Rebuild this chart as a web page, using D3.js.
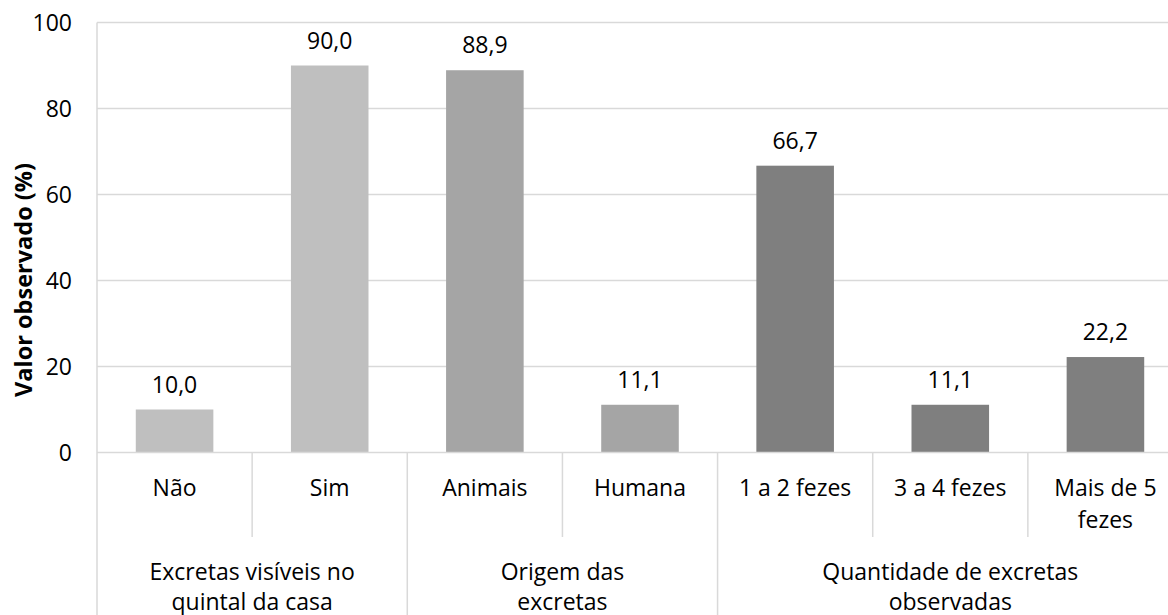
<!DOCTYPE html>
<html><head><meta charset="utf-8">
<script src="https://cdn.jsdelivr.net/npm/d3@7"></script>
<style>
html,body{margin:0;padding:0;background:#fff;overflow:hidden}
text{font-family:"Open Sans",sans-serif;fill:#000}
</style></head>
<body><svg id="c" width="1168" height="615"></svg>
<script>
const categories = ["Não","Sim","Animais","Humana","1 a 2 fezes","3 a 4 fezes","Mais de 5\nfezes"];
const values = [10.0, 90.0, 88.9, 11.1, 66.7, 11.1, 22.2];
const groupOfCategory = [0, 0, 1, 1, 2, 2, 2];
const groups = ["Excretas visíveis no\nquintal da casa","Origem das\nexcretas","Quantidade de excretas\nobservadas"];
const groupColors = ["#bfbfbf","#a5a5a5","#7f7f7f"];
const yTicks = [0, 20, 40, 60, 80, 100];
const yTitle = "Valor observado (%)";

(function(){
const svg = d3.select("#c");
const pL = 97, pR = 1183, pT = 22.5, pB = 452.5;
const fs = 23;
const grid = "#d9d9d9";

const x = d3.scaleBand().domain(d3.range(categories.length)).range([pL, pR]).paddingInner(0).paddingOuter(0);
const y = d3.scaleLinear().domain([0, 100]).range([pB, pT]);
const bw = x.bandwidth();

svg.append("g").selectAll("line").data(yTicks.filter(t => t > 0)).join("line")
  .attr("x1", pL).attr("x2", pR).attr("y1", d => y(d)).attr("y2", d => y(d))
  .attr("stroke", grid).attr("stroke-width", 1.3);

svg.append("g").selectAll("text").data(yTicks).join("text")
  .attr("x", 72).attr("y", d => y(d)).attr("dy", "0.35em")
  .attr("text-anchor", "end").attr("font-size", fs).text(d => d);

svg.append("g").selectAll("rect").data(values).join("rect")
  .attr("x", (d, i) => x(i) + bw / 4).attr("width", bw / 2)
  .attr("y", d => y(d)).attr("height", d => y(0) - y(d))
  .attr("fill", (d, i) => groupColors[groupOfCategory[i]]);

svg.append("g").selectAll("text").data(values).join("text")
  .attr("x", (d, i) => x(i) + bw / 2).attr("y", d => y(d) - 17)
  .attr("text-anchor", "middle").attr("font-size", fs)
  .text(d => d.toFixed(1).replace(".", ","));

svg.append("line").attr("x1", pL).attr("x2", pR).attr("y1", pB).attr("y2", pB)
  .attr("stroke", grid).attr("stroke-width", 1.5);
svg.append("line").attr("x1", pL).attr("x2", pL).attr("y1", pT).attr("y2", 615)
  .attr("stroke", grid).attr("stroke-width", 1.5);

const starts = [];
groupOfCategory.forEach((g, i) => { if (i > 0) starts.push({i, isGroup: g !== groupOfCategory[i - 1]}); });
starts.push({i: categories.length, isGroup: true});
svg.append("g").selectAll("line").data(starts).join("line")
  .attr("x1", d => d.i === categories.length ? pR : x(d.i))
  .attr("x2", d => d.i === categories.length ? pR : x(d.i))
  .attr("y1", pB).attr("y2", d => d.isGroup ? 615 : 537)
  .attr("stroke", grid).attr("stroke-width", 1.5);

const catG = svg.append("g");
categories.forEach((c, i) => {
  const t = catG.append("text").attr("text-anchor", "middle").attr("font-size", fs);
  c.split("\n").forEach((ln, k) => {
    t.append("tspan").attr("x", x(i) + bw / 2).attr("y", 496 + k * 32).text(ln);
  });
});

const grpG = svg.append("g");
groups.forEach((gname, g) => {
  const idx = groupOfCategory.map((v, i) => v === g ? i : -1).filter(i => i >= 0);
  const x0 = x(idx[0]), x1 = x(idx[idx.length - 1]) + bw;
  const t = grpG.append("text").attr("text-anchor", "middle").attr("font-size", fs);
  gname.split("\n").forEach((ln, k) => {
    t.append("tspan").attr("x", (x0 + x1) / 2).attr("y", 580 + k * 30).text(ln);
  });
});

svg.append("text").attr("transform", "translate(24,280) rotate(-90)")
  .attr("text-anchor", "middle").attr("dy", "0.35em").attr("font-size", 23.5)
  .attr("font-weight", "bold").text(yTitle);
})();
</script></body></html>
